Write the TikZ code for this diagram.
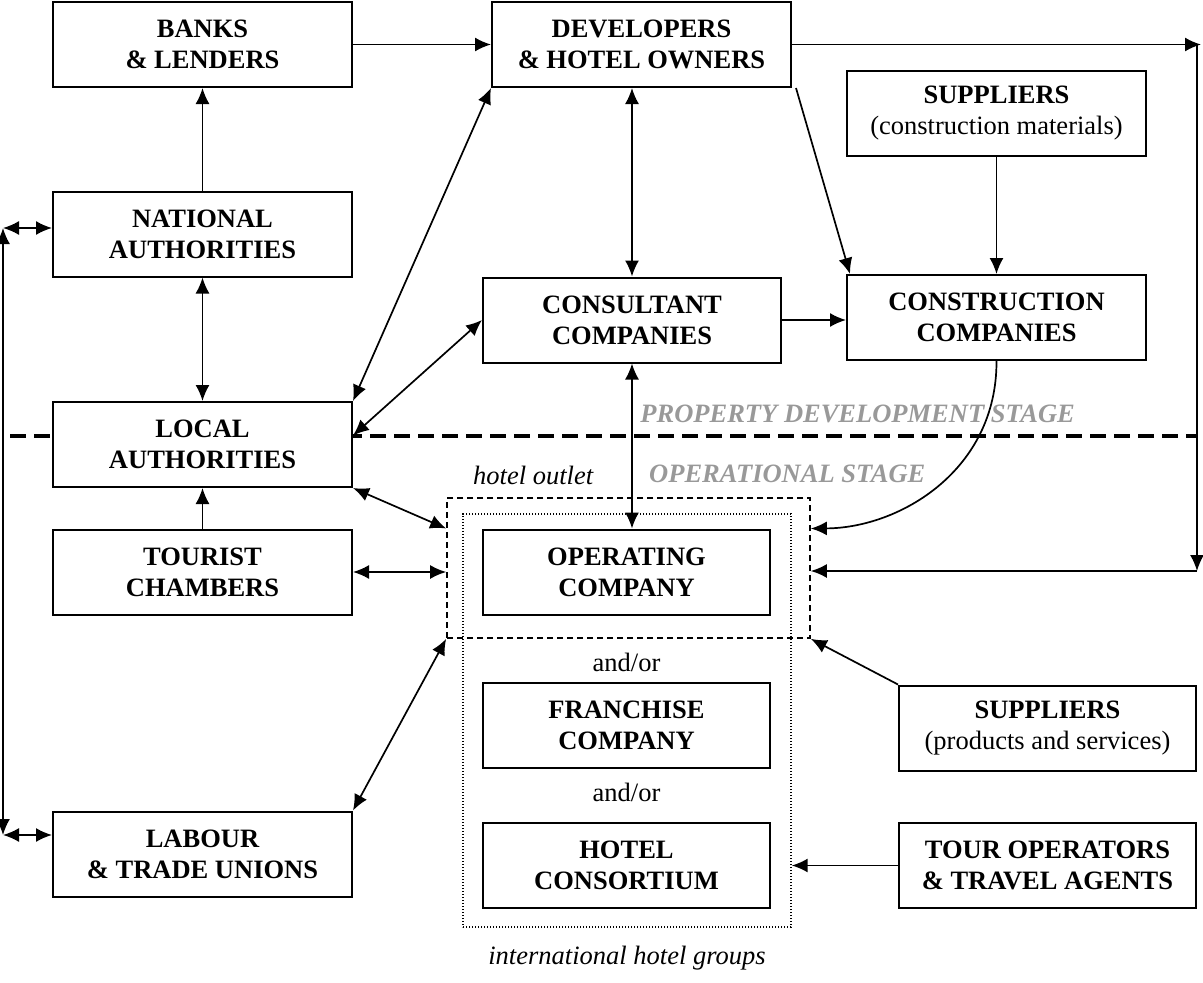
\documentclass[tikz,border=0pt]{standalone}
\usepackage{fontspec}
\setmainfont{Liberation Serif}
\usetikzlibrary{arrows.meta,calc}
\begin{document}
\begin{tikzpicture}[x=1pt,y=-1pt,
  txt/.style={font=\fontsize{26.5}{31}\selectfont, inner sep=0pt},
  itxt/.style={font=\itshape\fontsize{26.5}{31}\selectfont, inner sep=0pt},
  stage/.style={font=\bfseries\itshape\fontsize{26.5}{31}\selectfont, text=black!40, inner sep=0pt},
  box/.style={draw, line width=2pt, fill=white, inner sep=0pt, align=center,
    minimum width=299pt, minimum height=85pt, font=\bfseries\fontsize{26.5}{31}\selectfont},
  narrow/.style={minimum width=287pt},
  tip/.tip={Latex[length=16pt,width=14pt]},
  conn/.style={line width=1.7pt, -tip},
  biconn/.style={line width=1.7pt, tip-tip},
]
\useasboundingbox (0,0) rectangle (1203,983);

% stage separator
\coordinate (sl) at (10,436);
\coordinate (sr) at (1197,436);
\draw[line width=3.8pt, dash pattern=on 16pt off 8pt] (sl) -- (sr);
\node[stage, anchor=base east] (pds) at (1075,422) {PROPERTY DEVELOPMENT STAGE};
\node[stage, anchor=base west] (ops) at (649,482) {OPERATIONAL STAGE};

% grouping frames
\node[draw, line width=1.7pt, dash pattern=on 6pt off 4pt, minimum width=363pt, minimum height=140pt, inner sep=0pt] (outlet) at (628.5,568) {};
\node[draw, line width=1.4pt, dash pattern=on 1.3pt off 1.7pt, minimum width=328pt, minimum height=413pt, inner sep=0pt] (igroup) at (627,720.5) {};
\node[itxt, anchor=base west] (hotout) at (473,484) {hotel outlet};
\node[txt, anchor=base] (andor1) at (626.5,671) {and/or};
\node[txt, anchor=base] (andor2) at (626.5,801) {and/or};
\node[itxt, anchor=base] (ihg) at (627,964) {international hotel groups};

% boxes
\node[box] (banks) at (202.5,44.5) {BANKS\\\& LENDERS};
\node[box] (dev) at (641.5,44.5) {DEVELOPERS\\\& HOTEL OWNERS};
\node[box] (supc) at (996.5,113.5) {SUPPLIERS\\{\mdseries (construction materials)}};
\node[box] (nat) at (202.5,234) {NATIONAL\\AUTHORITIES};
\node[box, minimum width=298pt] (cons) at (632,320) {CONSULTANT\\COMPANIES};
\node[box] (constr) at (996.5,317.5) {CONSTRUCTION\\COMPANIES};
\node[box] (local) at (202.5,444.5) {LOCAL\\AUTHORITIES};
\node[box] (tour) at (202.5,572) {TOURIST\\CHAMBERS};
\node[box, narrow] (oper) at (626.5,572) {OPERATING\\COMPANY};
\node[box, narrow] (fran) at (626.5,725.5) {FRANCHISE\\COMPANY};
\node[box, narrow] (hcons) at (626.5,865.5) {HOTEL\\CONSORTIUM};
\node[box, minimum width=297pt] (supp) at (1047.5,728) {SUPPLIERS\\{\mdseries (products and services)}};
\node[box, minimum width=297pt] (tourop) at (1047.5,865.5) {TOUR OPERATORS\\\& TRAVEL AGENTS};
\node[box] (labour) at (202.5,854) {LABOUR\\\& TRADE UNIONS};

% helper coordinates
\coordinate (lt) at (3,228);
\coordinate (lb) at (3,835);
\coordinate (rtop) at (1201,44.5);
\coordinate (rtv) at (1197,44.5);
\coordinate (rbot) at (1197,571);

% connectors
\draw[conn] (banks.east) -- (dev.west);
\draw[conn] (nat.north) -- (banks.south);
\draw[biconn] (nat.south) -- (local.north);
\draw[conn] (tour.north) -- (local.south);
\draw[biconn] (local.north east) -- (dev.south west);
\draw[biconn] ([yshift=9pt]local.east) -- (cons.west);
\draw[biconn] (local.south east) -- (outlet.west |- oper.north);
\draw[biconn] (tour.east) -- (tour.east -| outlet.west);
\draw[biconn] (labour.north east) -- (outlet.south west);
\draw[biconn] (cons.north |- dev.south) -- (cons.north);
\draw[conn] ([xshift=4pt]dev.south east) -- ([xshift=4pt]constr.north west);
\draw[conn] (supc.south) -- (constr.north);
\draw[conn] (cons.east) -- (cons.east -| constr.west);
\draw[biconn] (cons.south) -- (cons.south |- oper.north);
\draw[conn] (constr.south) .. controls (997,470) and (900,528) .. (outlet.east |- oper.north);
\draw[conn] (dev.east) -- (rtop);
\draw[conn] (rtv) -- (rbot);
\draw[conn] (rbot) -- (rbot -| outlet.east);
\draw[conn] (supp.north west) -- (outlet.south east);
\draw[conn] (tourop.west) -- (tourop.west -| igroup.east);
\draw[biconn] (lt) -- (lb);
\draw[biconn] (lt) -- (lt -| nat.west);
\draw[biconn] (lb) -- (lb -| labour.west);
\end{tikzpicture}
\end{document}
